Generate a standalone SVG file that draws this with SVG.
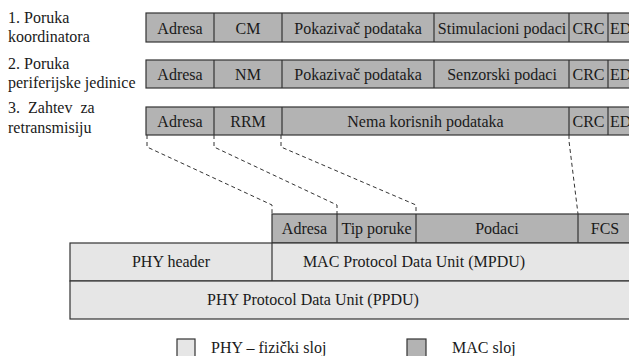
<svg xmlns="http://www.w3.org/2000/svg" width="629" height="356" viewBox="0 0 629 356">
  <style>
    .t { font-family: "Liberation Serif", serif; font-size: 16px; fill: #1a1a1a; }
    .c { text-anchor: middle; }
    .mac { fill: #b3b3b3; stroke: #333; stroke-width: 1.2; }
    .phy { fill: #e6e6e6; stroke: #333; stroke-width: 1.2; }
    .div { stroke: #333; stroke-width: 1.2; }
    .dash { fill: none; stroke: #333; stroke-width: 1; stroke-dasharray: 4 3; }
  </style>
  <rect width="629" height="356" fill="#fff"/>

  <!-- side labels -->
  <g id="labels">
    <text class="t" x="8" y="23">1. Poruka</text>
    <text class="t" x="8" y="42">koordinatora</text>
    <text class="t" x="8" y="69">2. Poruka</text>
    <text class="t" x="8" y="88">periferijske jedinice</text>
    <text class="t" x="8" y="113" xml:space="preserve">3.  Zahtev  za</text>
    <text class="t" x="8" y="133">retransmisiju</text>
  </g>

  <!-- message 1: coordinator -->
  <g id="msg-coordinator">
    <rect class="mac" x="146" y="13" width="490" height="29"/>
    <line class="div" x1="214" y1="13" x2="214" y2="42"/>
    <line class="div" x1="282" y1="13" x2="282" y2="42"/>
    <line class="div" x1="434" y1="13" x2="434" y2="42"/>
    <line class="div" x1="569" y1="13" x2="569" y2="42"/>
    <line class="div" x1="608" y1="13" x2="608" y2="42"/>
    <text class="t c" x="180" y="34">Adresa</text>
    <text class="t c" x="248" y="34">CM</text>
    <text class="t c" x="358" y="34">Pokazivač podataka</text>
    <text class="t c" x="502" y="34">Stimulacioni podaci</text>
    <text class="t c" x="588.5" y="34">CRC</text>
    <text class="t" x="610" y="34">ED</text>
  </g>

  <!-- message 2: peripheral unit -->
  <g id="msg-peripheral">
    <rect class="mac" x="146" y="60" width="490" height="28"/>
    <line class="div" x1="214" y1="60" x2="214" y2="88"/>
    <line class="div" x1="282" y1="60" x2="282" y2="88"/>
    <line class="div" x1="434" y1="60" x2="434" y2="88"/>
    <line class="div" x1="569" y1="60" x2="569" y2="88"/>
    <line class="div" x1="608" y1="60" x2="608" y2="88"/>
    <text class="t c" x="180" y="80">Adresa</text>
    <text class="t c" x="248" y="80">NM</text>
    <text class="t c" x="358" y="80">Pokazivač podataka</text>
    <text class="t c" x="502" y="80">Senzorski podaci</text>
    <text class="t c" x="588.5" y="80">CRC</text>
    <text class="t" x="610" y="80">ED</text>
  </g>

  <!-- message 3: retransmission request -->
  <g id="msg-retransmission">
    <rect class="mac" x="146" y="107" width="490" height="28"/>
    <line class="div" x1="214" y1="107" x2="214" y2="135"/>
    <line class="div" x1="282" y1="107" x2="282" y2="135"/>
    <line class="div" x1="569" y1="107" x2="569" y2="135"/>
    <line class="div" x1="608" y1="107" x2="608" y2="135"/>
    <text class="t c" x="180" y="127">Adresa</text>
    <text class="t c" x="248" y="127">RRM</text>
    <text class="t c" x="425.5" y="127">Nema korisnih podataka</text>
    <text class="t c" x="588.5" y="127">CRC</text>
    <text class="t" x="610" y="127">ED</text>
  </g>

  <!-- dashed mapping lines -->
  <g id="connectors">
    <polyline class="dash" points="147,135 147,147 272,205 272,214"/>
    <polyline class="dash" points="214,135 214,147 337,205 337,214"/>
    <polyline class="dash" points="281,135 281,147 416,205 416,214"/>
    <polyline class="dash" points="569,135 569,141 578,214"/>
  </g>

  <!-- MPDU fields -->
  <g id="mpdu-fields">
    <rect class="mac" x="272" y="214" width="364" height="29"/>
    <line class="div" x1="337" y1="214" x2="337" y2="243"/>
    <line class="div" x1="416" y1="214" x2="416" y2="243"/>
    <line class="div" x1="578" y1="214" x2="578" y2="243"/>
    <text class="t c" x="304.5" y="234">Adresa</text>
    <text class="t c" x="376.5" y="234">Tip poruke</text>
    <text class="t c" x="497" y="234">Podaci</text>
    <text class="t c" x="605" y="234">FCS</text>
  </g>

  <!-- PHY header + MPDU -->
  <g id="phy-header-row">
    <rect class="phy" x="70" y="243" width="566" height="38"/>
    <line class="div" x1="272" y1="243" x2="272" y2="281"/>
    <text class="t c" x="171" y="267">PHY header</text>
    <text class="t c" x="414" y="267">MAC Protocol Data Unit (MPDU)</text>
  </g>

  <!-- PPDU -->
  <g id="ppdu-row">
    <rect class="phy" x="70" y="281" width="566" height="38"/>
    <text class="t c" x="313" y="305">PHY Protocol Data Unit (PPDU)</text>
  </g>

  <!-- legend -->
  <g id="legend">
    <rect class="phy" x="177" y="339" width="18" height="22"/>
    <text class="t" x="211" y="353">PHY – fizički sloj</text>
    <rect class="mac" x="407" y="339" width="19" height="22"/>
    <text class="t" x="452" y="353">MAC sloj</text>
  </g>
</svg>
